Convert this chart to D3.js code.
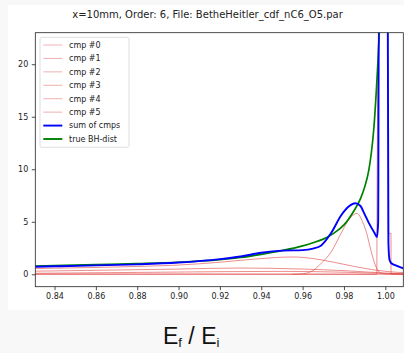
<!DOCTYPE html>
<html><head><meta charset="utf-8">
<script src="https://cdn.jsdelivr.net/npm/d3@7"></script>
<style>
html,body{margin:0;padding:0;background:#f8f8f8;}
svg{display:block;}
</style></head>
<body>
<svg id="chart" width="404" height="353"></svg>
<script>
// ---- data ----
const titleText = "x=10mm, Order: 6, File: BetheHeitler_cdf_nC6_O5.par";
const xTicks = [0.84,0.86,0.88,0.90,0.92,0.94,0.96,0.98,1.00];
const yTicks = [0,5,10,15,20];
const legendLabels = ["cmp #0","cmp #1","cmp #2","cmp #3","cmp #4","cmp #5","sum of cmps","true BH-dist"];

const cmp0X = [0.8307,0.86,0.88,0.90,0.92,0.94,0.955,0.965,0.975,0.985,0.995,1.0087];
const cmp0Y = [0.55,0.65,0.75,0.88,1.15,1.5,1.65,1.5,1.15,0.75,0.4,0.15];
const cmp1X = [0.8307,0.86,0.90,0.93,0.96,0.98,1.0,1.0087];
const cmp1Y = [0.3,0.38,0.5,0.6,0.5,0.35,0.12,0.05];
const cmp2X = [0.8307,0.88,0.92,0.95,0.98,1.0,1.0087];
const cmp2Y = [0.1,0.18,0.25,0.28,0.2,0.08,0.03];
const cmp3X = [0.8307,0.90,0.96,1.0087];
const cmp3Y = [0.03,0.03,0.02,0.01];
const cmp4X = [0.955,0.96,0.965,0.969,0.9737,0.9786,0.982,0.9863,0.989,0.991,0.993,0.9955,0.9975,1.0,1.0087];
const cmp4Y = [0,0.05,0.35,1.05,2.1,3.9,5.1,5.8,5.0,3.9,2.3,0.7,0.15,0.03,0];
const cmp5X = [0.8307,0.9959,0.99598,0.99685,1.0012,1.0014,1.00274,1.00276,1.0087];
const cmp5Y = [0,0,5.5,24,24,3.9,3.9,0,0];

const sumX = [0.8307,0.84,0.86,0.88,0.90,0.92,0.93,0.94,0.95,0.96,0.965,0.969,0.9737,0.9786,0.982,0.9855,0.988,0.9898,0.992,0.9946,0.99598,0.99655,0.99685,1.0012,1.0015,1.0020,1.0029,1.005,1.0087];
const sumY = [0.72,0.76,0.85,0.95,1.12,1.45,1.7,2.05,2.25,2.3,2.45,2.75,3.9,5.6,6.4,6.76,6.5,5.8,4.9,4.0,3.55,5,24,24,3,1.4,1.05,0.85,0.57];

const bhX = [0.8307,0.84,0.86,0.88,0.90,0.92,0.93,0.94,0.95,0.96,0.965,0.97,0.975,0.98,0.985,0.988,0.99,0.992,0.9932,0.9945,0.9956,0.9965,0.9971,0.9975];
const bhY = [0.78,0.82,0.92,1.02,1.15,1.4,1.6,1.9,2.25,2.7,3.0,3.35,3.9,4.7,6.1,7.2,8.3,9.9,11.5,14.0,17.3,20.5,23.2,25];

// ---- layout ----
const svg = d3.select("#chart");
const L = 35.3, R = 403.3, T = 32.7, B = 286.7;
const x = d3.scaleLinear().domain([0.8307, 1.0087]).range([L, R]);
const y = d3.scaleLinear().domain([-1.18, 23.0]).range([B, T]);

// figure background
svg.append("rect").attr("x",8).attr("y",5).attr("width",404).attr("height",305).attr("fill","#ffffff");

svg.append("defs").append("clipPath").attr("id","clip")
  .append("rect").attr("x",L).attr("y",T).attr("width",R-L).attr("height",B-T);

const line = d3.line().x(d=>x(d[0])).y(d=>y(d[1])).curve(d3.curveMonotoneX);
const zip = (a,b)=>a.map((v,i)=>[v,b[i]]);

const plot = svg.append("g").attr("clip-path","url(#clip)");
const cmps = [[cmp0X,cmp0Y],[cmp1X,cmp1Y],[cmp2X,cmp2Y],[cmp3X,cmp3Y],[cmp4X,cmp4Y],[cmp5X,cmp5Y]];
cmps.forEach(c=>{
  plot.append("path").attr("d",line(zip(c[0],c[1])))
    .attr("fill","none").attr("stroke","#e24a4a").attr("stroke-opacity",0.7).attr("stroke-width",0.9);
});
plot.append("path").attr("d",line(zip(bhX,bhY)))
  .attr("fill","none").attr("stroke","#008000").attr("stroke-width",1.7);
plot.append("path").attr("d",line(zip(sumX,sumY)))
  .attr("fill","none").attr("stroke","#0000ff").attr("stroke-width",1.9);

// axes
const font = "DejaVu Sans, sans-serif";
const xAxis = svg.append("g").attr("transform",`translate(0,${B})`)
  .call(d3.axisBottom(x).tickValues(xTicks).tickFormat(d3.format(".2f")).tickSize(3.5).tickPadding(3.5));
const yAxis = svg.append("g").attr("transform",`translate(${L},0)`)
  .call(d3.axisLeft(y).tickValues(yTicks).tickFormat(d3.format("d")).tickSize(3.5).tickPadding(3.5));
[xAxis,yAxis].forEach(a=>{
  a.select(".domain").remove();
  a.selectAll("line").attr("stroke","#222").attr("stroke-width",0.8);
  a.selectAll("text").attr("font-family",font).attr("font-size","8px").attr("fill","#222");
});
svg.append("rect").attr("x",L).attr("y",T).attr("width",R-L).attr("height",B-T)
  .attr("fill","none").attr("stroke","#222").attr("stroke-width",0.8);

// title
svg.append("text").attr("x",207.5).attr("y",17.5).attr("text-anchor","middle")
  .attr("font-family",font).attr("font-size","10px").attr("fill","#222").text(titleText);

// legend
const lg = svg.append("g");
lg.append("rect").attr("x",40).attr("y",37.3).attr("width",89).attr("height",110).attr("rx",2)
  .attr("fill","#fff").attr("fill-opacity",0.8).attr("stroke","#d5d5d5").attr("stroke-width",0.8);
const lgColors = ["#e05050","#e05050","#e05050","#e05050","#e05050","#e05050","#0000ff","#008000"];
legendLabels.forEach((t,i)=>{
  const yy = 45 + i*13.43;
  const isCmp = i < 6;
  lg.append("line").attr("x1",43.3).attr("x2",62.3).attr("y1",yy).attr("y2",yy)
    .attr("stroke",lgColors[i]).attr("stroke-opacity",isCmp?0.45:1).attr("stroke-width",isCmp?1.0:1.9);
  lg.append("text").attr("x",69).attr("y",yy+2.9).attr("font-family",font).attr("font-size","8px")
    .attr("fill","#222").text(t);
});

// x label
const xl = svg.append("text").attr("x",163).attr("y",344).attr("font-family","Liberation Sans, Arial, sans-serif")
  .attr("font-size","23px").attr("fill","#111");
xl.append("tspan").text("E");
xl.append("tspan").attr("font-size","13px").attr("dy",3).text("f");
xl.append("tspan").attr("dy",-3).text(" / E");
xl.append("tspan").attr("font-size","13px").attr("dy",3).text("i");
</script>
</body></html>
